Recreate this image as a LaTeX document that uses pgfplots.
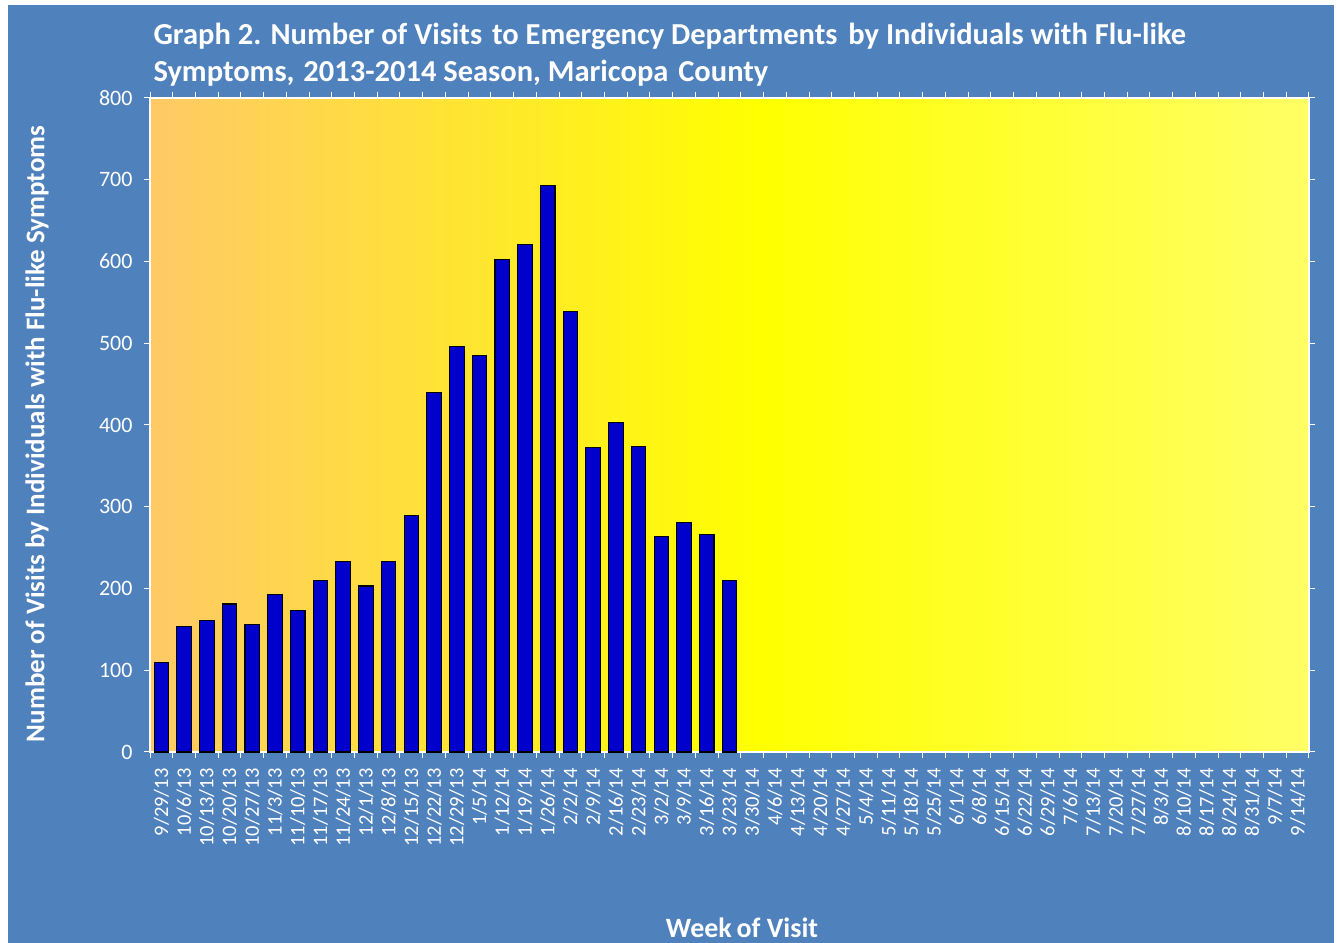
\documentclass[border=0pt]{standalone}
\usepackage{pgfplots}
\pgfplotsset{compat=1.18}
\usepackage{fontspec}
\setmainfont{Carlito}
\definecolor{bgblue}{HTML}{4F81BD}
\definecolor{barblue}{HTML}{0000CC}
\definecolor{gL}{HTML}{FFC966}
\definecolor{gM}{HTML}{FFFF00}
\definecolor{gR}{HTML}{FFFF66}
\pgfdeclarehorizontalshading{plotbg}{100bp}{color(0bp)=(gL); color(25bp)=(gL); color(51.3bp)=(gM); color(75bp)=(gR); color(100bp)=(gR)}
\begin{document}
\begin{tikzpicture}
\fill[white] (0bp,0bp) rectangle (1337bp,943bp);
\fill[bgblue] (8bp,0bp) rectangle (1334bp,938bp);
\begin{axis}[
  at={(150bp,191bp)}, anchor=south west,
  scale only axis, width=1159bp, height=654bp,
  xmin=-0.5, xmax=50.5, ymin=0, ymax=800,
  axis background/.style={shading=plotbg},
  axis line style={white, line width=1.3bp},
  ytick={0,100,...,800},
  xtick={0,...,50},
  xticklabels={9/29/13,10/6/13,10/13/13,10/20/13,10/27/13,11/3/13,11/10/13,11/17/13,11/24/13,12/1/13,12/8/13,12/15/13,12/22/13,12/29/13,1/5/14,1/12/14,1/19/14,1/26/14,2/2/14,2/9/14,2/16/14,2/23/14,3/2/14,3/9/14,3/16/14,3/23/14,3/30/14,4/6/14,4/13/14,4/20/14,4/27/14,5/4/14,5/11/14,5/18/14,5/25/14,6/1/14,6/8/14,6/15/14,6/22/14,6/29/14,7/6/14,7/13/14,7/20/14,7/27/14,8/3/14,8/10/14,8/17/14,8/24/14,8/31/14,9/7/14,9/14/14},
  minor xtick={-0.5,0.5,...,50.5},
  tick align=outside,
  major tick length=6bp, minor tick length=6bp,
  major x tick style={draw=none},
  minor x tick style={white, line width=1bp},
  major y tick style={white, line width=1bp},
  /pgf/number format/assume math mode=true,
  y tick label style={xshift=-8bp, text=white, font=\fontsize{22bp}{26bp}\selectfont},
  x tick label style={yshift=-7bp, rotate=90, anchor=east, text=white, font=\fontsize{20.5bp}{24bp}\selectfont},
  clip=false,
]
\addplot[ybar, bar width=0.64, fill=barblue, draw=black, line width=1.1bp] coordinates {
(0,109) (1,154) (2,161) (3,181) (4,156) (5,193) (6,173) (7,210) (8,233) (9,203)
(10,233) (11,289) (12,440) (13,496) (14,485) (15,602) (16,621) (17,693) (18,539) (19,372)
(20,403) (21,374) (22,264) (23,281) (24,266) (25,210)
};
\end{axis}
\node[anchor=base west, text=white, font=\bfseries\fontsize{30.5bp}{34bp}\selectfont] at (150bp,898bp) {Graph 2. Number of Visits\hspace{3bp} to Emergency Departments\hspace{4bp} by Individuals with Flu-like};
\node[anchor=base west, text=white, font=\bfseries\fontsize{30.5bp}{34bp}\selectfont] at (150bp,861bp) {Symptoms,\hspace{2bp} 2013-2014 Season, Maricopa\hspace{3bp} County};
\node[rotate=90, text=white, font=\bfseries\fontsize{27bp}{31bp}\selectfont] at (37bp,509bp) {Number of Visits by Individuals with Flu-like Symptoms};
\node[text=white, font=\bfseries\fontsize{28bp}{32bp}\selectfont] at (742bp,15bp) {Week\hspace{-1.5bp} of Visit};
\end{tikzpicture}
\end{document}
